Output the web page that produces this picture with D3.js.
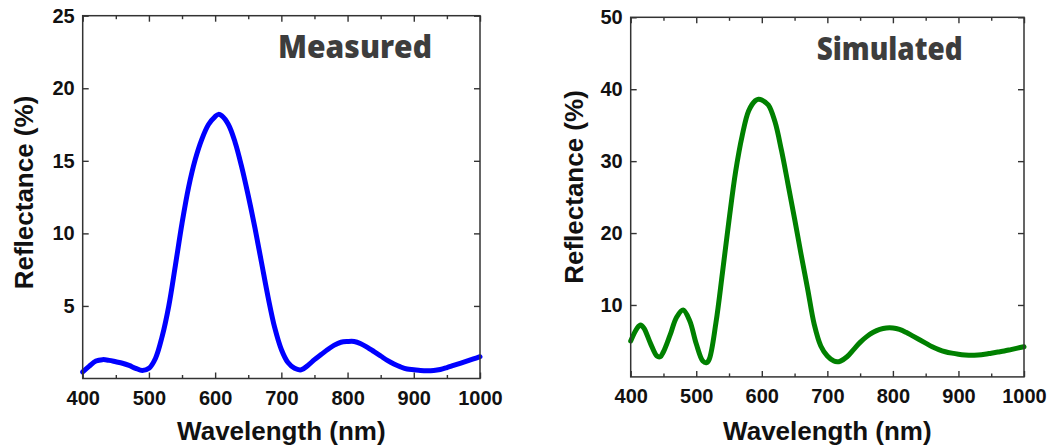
<!DOCTYPE html>
<html>
<head>
<meta charset="utf-8">
<script src="https://cdn.jsdelivr.net/npm/d3@7"></script>
<style>
  html, body { margin: 0; padding: 0; background: #fff; }
  svg { display: block; }
</style>
</head>
<body>
<svg id="chart" width="1051" height="446"></svg>
<script>
// Wavelength grid (nm) and reflectance (%) for the measured sample
const measuredWavelength = [400, 410, 420, 430, 440, 450, 460, 470, 480, 490, 500, 510, 520, 530, 540, 550, 560, 570, 580, 590, 600, 605, 610, 620, 630, 640, 650, 660, 670, 680, 690, 700, 710, 720, 730, 740, 750, 760, 770, 780, 790, 800, 810, 820, 830, 840, 850, 860, 870, 880, 890, 900, 910, 920, 930, 940, 950, 960, 970, 980, 990, 1000];
const measuredReflectance = [0.45, 0.85, 1.2, 1.3, 1.25, 1.15, 1.05, 0.9, 0.7, 0.55, 0.7, 1.4, 2.9, 5.0, 7.8, 10.7, 13.2, 15.1, 16.5, 17.5, 18.05, 18.2, 18.1, 17.5, 16.3, 14.6, 12.6, 10.4, 8.0, 5.6, 3.5, 2.0, 1.1, 0.7, 0.6, 0.9, 1.3, 1.65, 2.0, 2.3, 2.5, 2.55, 2.55, 2.4, 2.15, 1.85, 1.55, 1.25, 1.0, 0.8, 0.65, 0.6, 0.55, 0.53, 0.55, 0.62, 0.75, 0.9, 1.05, 1.2, 1.35, 1.5];

// Wavelength grid (nm) and reflectance (%) from the simulation
const simulatedWavelength = [400, 410, 415, 420, 430, 440, 445, 450, 460, 470, 480, 490, 500, 510, 516, 520, 530, 540, 550, 560, 570, 580, 590, 595, 600, 610, 620, 630, 640, 650, 660, 670, 680, 690, 700, 710, 715, 720, 730, 740, 750, 760, 770, 780, 790, 800, 810, 820, 830, 840, 850, 860, 870, 880, 890, 900, 910, 920, 930, 940, 950, 960, 970, 980, 990, 1000];
const simulatedReflectance = [5.0, 6.8, 7.2, 6.8, 4.7, 2.9, 2.8, 3.5, 5.8, 8.3, 9.3, 7.8, 4.6, 2.2, 2.0, 2.5, 7.5, 14.5, 21.8, 28.5, 33.5, 37.0, 38.4, 38.6, 38.5, 37.8, 35.5, 31.5, 26.8, 22.0, 17.0, 12.2, 7.3, 4.3, 2.9, 2.2, 2.1, 2.2, 2.8, 3.8, 4.8, 5.6, 6.2, 6.6, 6.8, 6.8, 6.6, 6.2, 5.7, 5.2, 4.7, 4.2, 3.8, 3.5, 3.3, 3.15, 3.05, 3.0, 3.05, 3.15, 3.3, 3.45, 3.6, 3.8, 4.0, 4.2];

// Axis ticks
const xMajorTicks = [400, 500, 600, 700, 800, 900, 1000];
const xMinorTicks = [450, 550, 650, 750, 850, 950];
const measuredYTicks = [5, 10, 15, 20, 25];
const simulatedYTicks = [10, 20, 30, 40, 50];

// Text
const panelTitles = ["Measured", "Simulated"];
const xAxisTitle = "Wavelength (nm)";
const yAxisTitle = "Reflectance (%)";

const svg = d3.select("#chart");

function drawPanel(opts) {
  const { left, right, top, bottom, xs, ys, yMax, yTicks, color, title, titleX, titleY, titleWidth, yTitleX, yTitleY } = opts;

  const x = d3.scaleLinear().domain([400, 1000]).range([left, right]);
  const y = d3.scaleLinear().domain([0, yMax]).range([bottom, top]);

  const g = svg.append("g");

  // Data line
  const pts = xs.map((w, i) => [w, ys[i]]);
  const line = d3.line()
    .x(d => x(d[0]))
    .y(d => y(d[1]))
    .curve(d3.curveCatmullRom.alpha(0.5));
  g.append("path")
    .datum(pts)
    .attr("d", line)
    .attr("fill", "none")
    .attr("stroke", color)
    .attr("stroke-width", 5)
    .attr("stroke-linejoin", "round")
    .attr("stroke-linecap", "round");

  const frameColor = "#333";
  const tickFont = "'Liberation Sans', Arial, sans-serif";

  // Bottom axis with labels, ticks pointing inward
  const xAxisBottom = d3.axisBottom(x).tickValues(xMajorTicks).tickSize(-6).tickPadding(12).tickFormat(d3.format("d"));
  const gxb = g.append("g").attr("transform", `translate(0,${bottom})`).call(xAxisBottom);
  // Top axis mirrored, no labels
  const xAxisTop = d3.axisTop(x).tickValues(xMajorTicks).tickSize(-6).tickFormat("");
  const gxt = g.append("g").attr("transform", `translate(0,${top})`).call(xAxisTop);
  // Minor ticks
  const xMinB = d3.axisBottom(x).tickValues(xMinorTicks).tickSize(-3.5).tickFormat("");
  const gmb = g.append("g").attr("transform", `translate(0,${bottom})`).call(xMinB);
  const xMinT = d3.axisTop(x).tickValues(xMinorTicks).tickSize(-3.5).tickFormat("");
  const gmt = g.append("g").attr("transform", `translate(0,${top})`).call(xMinT);

  // Left axis with labels, right axis mirrored
  const yAxisLeft = d3.axisLeft(y).tickValues(yTicks).tickSize(-6).tickPadding(8).tickFormat(d3.format("d"));
  const gyl = g.append("g").attr("transform", `translate(${left},0)`).call(yAxisLeft);
  const yAxisRight = d3.axisRight(y).tickValues(yTicks).tickSize(-6).tickFormat("");
  const gyr = g.append("g").attr("transform", `translate(${right},0)`).call(yAxisRight);

  [gxb, gxt, gmb, gmt, gyl, gyr].forEach(a => {
    a.select(".domain").remove();
    a.selectAll(".tick line").attr("stroke", frameColor).attr("stroke-width", 1.4);
    a.selectAll(".tick text")
      .attr("fill", "#111")
      .style("font-family", tickFont)
      .style("font-weight", "bold")
      .style("font-size", "20px");
  });

  // Frame
  g.append("rect")
    .attr("x", left).attr("y", top)
    .attr("width", right - left).attr("height", bottom - top)
    .attr("fill", "none")
    .attr("stroke", frameColor)
    .attr("stroke-width", 1.5);

  // Axis titles
  g.append("text")
    .attr("x", (left + right) / 2)
    .attr("y", 440)
    .attr("text-anchor", "middle")
    .attr("fill", "#111")
    .style("font-family", tickFont)
    .style("font-weight", "bold")
    .style("font-size", "26px")
    .text(xAxisTitle);

  g.append("text")
    .attr("transform", `translate(${yTitleX},${yTitleY}) rotate(-90)`)
    .attr("text-anchor", "middle")
    .attr("fill", "#111")
    .style("font-family", tickFont)
    .style("font-weight", "bold")
    .style("font-size", "26px")
    .text(yAxisTitle);

  // Panel label
  g.append("text")
    .attr("x", titleX)
    .attr("y", titleY)
    .attr("fill", "#3d3d3d")
    .attr("textLength", titleWidth)
    .attr("lengthAdjust", "spacingAndGlyphs")
    .style("font-family", "'Open Sans', sans-serif")
    .style("font-weight", "800")
    .style("font-size", "31px")
    .text(title);
}

drawPanel({
  left: 82.7, right: 480, top: 15.7, bottom: 378.5,
  xs: measuredWavelength, ys: measuredReflectance,
  yMax: 25, yTicks: measuredYTicks, color: "#0000ff",
  title: panelTitles[0], titleX: 278, titleY: 58, titleWidth: 154,
  yTitleX: 33, yTitleY: 192.5
});

drawPanel({
  left: 630.7, right: 1024, top: 17.3, bottom: 376.9,
  xs: simulatedWavelength, ys: simulatedReflectance,
  yMax: 50, yTicks: simulatedYTicks, color: "#008000",
  title: panelTitles[1], titleX: 816.7, titleY: 60, titleWidth: 146,
  yTitleX: 583, yTitleY: 187
});
</script>
</body>
</html>
